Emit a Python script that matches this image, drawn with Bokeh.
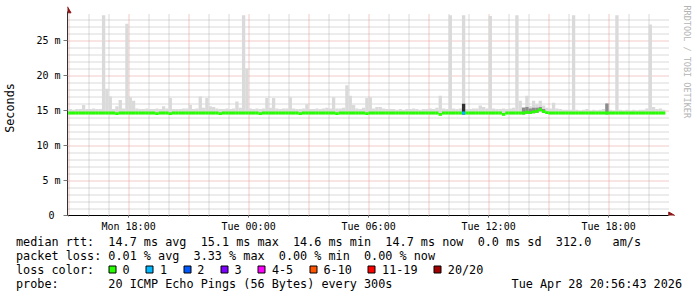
import html
import numpy as np
import pandas as pd
from bokeh.plotting import figure
from bokeh.layouts import column
from bokeh.models import (Range1d, FixedTicker, Plot, Div, ColumnDataSource)
from bokeh.core.properties import value
from bokeh.embed import file_html
from bokeh.resources import INLINE

# ---------------- data ----------------
step_start = "2026-04-27 14:50"          # first 10-minute step
view_start = "2026-04-27 14:56:43"
view_end = "2026-04-28 20:56:43"

# maximum ping RTT per step (ms) -> top of the grey "smoke"
smoke_max = [
    15.2, 15.2, 15.1, 15.2, 15.2, 15.8, 15.2, 15.2, 15.3, 15.2,
    15.2, 28.6, 18.1, 17.0, 15.2, 15.6, 16.5, 15.3, 27.4, 16.9,
    16.4, 15.3, 15.2, 15.2, 15.3, 15.2, 15.2, 15.3, 15.2, 15.6,
    15.3, 16.8, 15.2, 15.2, 15.2, 15.3, 15.3, 15.8, 15.2, 15.3,
    17.0, 15.4, 16.8, 15.6, 15.5, 15.3, 15.2, 15.2, 15.3, 15.2,
    15.3, 16.3, 15.4, 28.6, 21.0, 15.3, 15.2, 15.3, 15.2, 15.3,
    16.8, 15.4, 16.8, 15.3, 15.2, 15.3, 15.3, 16.9, 15.3, 15.2,
    15.2, 15.3, 15.9, 15.2, 15.2, 15.3, 15.2, 15.3, 15.4, 15.3,
    16.9, 15.3, 15.3, 15.4, 18.6, 17.1, 15.8, 15.3, 15.2, 15.4,
    16.8, 16.9, 15.3, 15.5, 15.5, 15.3, 15.2, 15.2, 15.2, 15.1,
    15.2, 15.1, 15.2, 15.2, 15.3, 15.2, 15.1, 15.2, 15.2, 15.3,
    15.2, 15.4, 17.1, 15.3, 15.2, 28.6, 15.3, 15.2, 15.3, 28.6,
    15.2, 15.2, 15.3, 15.3, 15.7, 15.5, 15.3, 28.5, 15.3, 15.2,
    15.2, 15.3, 15.2, 15.3, 15.4, 28.6, 16.4, 15.5, 17.1, 15.6,
    16.4, 15.9, 16.4, 15.7, 15.4, 15.3, 16.1, 15.3, 15.2, 15.1,
    15.1, 15.1, 28.6, 15.1, 15.0, 15.1, 15.2, 15.0, 15.1, 15.0,
    15.1, 15.2, 16.0, 15.1, 15.0, 28.6, 15.1, 15.0, 15.1, 15.0,
    15.1, 15.0, 15.1, 15.1, 15.3, 27.3, 15.5, 15.2, 15.3, 15.1,
]

# median RTT per step (ms)
median_rtt = [
    14.65, 14.65, 14.65, 14.65, 14.65, 14.65, 14.65, 14.65, 14.65, 14.65,
    14.65, 14.65, 14.65, 14.65, 14.65, 14.55, 14.65, 14.65, 14.65, 14.65,
    14.65, 14.65, 14.65, 14.65, 14.65, 14.65, 14.65, 14.55, 14.65, 14.65,
    14.65, 14.55, 14.65, 14.65, 14.65, 14.65, 14.65, 14.65, 14.65, 14.65,
    14.65, 14.65, 14.65, 14.65, 14.65, 14.65, 14.55, 14.65, 14.65, 14.65,
    14.65, 14.65, 14.65, 14.65, 14.65, 14.65, 14.65, 14.65, 14.55, 14.65,
    14.65, 14.65, 14.65, 14.65, 14.65, 14.65, 14.65, 14.65, 14.65, 14.65,
    14.55, 14.65, 14.65, 14.65, 14.65, 14.65, 14.65, 14.65, 14.65, 14.65,
    14.65, 14.55, 14.65, 14.65, 14.65, 14.65, 14.65, 14.65, 14.65, 14.65,
    14.55, 14.65, 14.65, 14.65, 14.65, 14.65, 14.65, 14.65, 14.65, 14.65,
    14.65, 14.65, 14.65, 14.65, 14.65, 14.65, 14.65, 14.65, 14.65, 14.65,
    14.65, 14.65, 14.45, 14.65, 14.65, 14.65, 14.65, 14.65, 14.65, 14.65,
    14.65, 14.65, 14.65, 14.65, 14.65, 14.65, 14.65, 14.65, 14.65, 14.65,
    14.65, 14.45, 14.65, 14.65, 14.65, 14.65, 14.65, 14.65, 14.75, 14.70,
    14.80, 14.90, 15.10, 14.85, 14.70, 14.65, 14.65, 14.65, 14.65, 14.65,
    14.65, 14.65, 14.65, 14.65, 14.65, 14.65, 14.65, 14.65, 14.65, 14.65,
    14.65, 14.65, 14.65, 14.65, 14.65, 14.65, 14.65, 14.65, 14.65, 14.65,
    14.65, 14.65, 14.65, 14.65, 14.65, 14.65, 14.65, 14.65, 14.65, 14.65,
]

# steps with packet loss (step index, lost pings out of 20)
loss_steps = [119]
loss_pings = [1]

# denser smoke (many pings close together): step index and top (ms)
dense_steps = [119]
dense_top = [15.95]
medium_steps = [162, 137, 138, 139, 140, 141, 142, 143]
medium_top = [16.0, 15.4, 15.5, 15.3, 15.4, 15.4, 15.5, 15.2]

y_ticks = [0, 5, 10, 15, 20, 25]
y_tick_labels = ["0\u00a0", "5 m", "10 m", "15 m", "20 m", "25 m"]
x_tick_times = ["2026-04-27 18:00", "2026-04-28 00:00", "2026-04-28 06:00",
                "2026-04-28 12:00", "2026-04-28 18:00"]
x_tick_labels = ["Mon 18:00", "Tue 00:00", "Tue 06:00", "Tue 12:00", "Tue 18:00"]

loss_legend_labels = ["0", "1", "2", "3", "4-5", "6-10", "11-19", "20/20"]
loss_legend_colors = ["#26ff00", "#00b8ff", "#0059ff", "#7e00ff",
                      "#ff00ff", "#ff5500", "#ff0000", "#a10000"]

row_rtt = "median rtt:  14.7 ms avg  15.1 ms max  14.6 ms min  14.7 ms now  0.0 ms sd  312.0   am/s"
row_loss = "packet loss: 0.01 % avg  3.33 % max  0.00 % min  0.00 % now"
row_color = "loss color:"
row_probe = "probe:       20 ICMP Echo Pings (56 Bytes) every 300s"
row_date = "Tue Apr 28 20:56:43 2026"
watermark = "RRDTOOL / TOBI OETIKER"

# ---------------- build ----------------
HAS_FALIGN = "frame_align" in Plot.properties()

def ms(t):
    return int(pd.Timestamp(t).value // 10**6)

step = pd.Timedelta(minutes=10)
starts = pd.date_range(step_start, periods=len(smoke_max), freq="10min")
ends = starts + step
med = np.array(median_rtt)
band = 0.21

loss_full = [0] * len(median_rtt)
for i, n in zip(loss_steps, loss_pings):
    loss_full[i] = n

def loss_color(n):
    return loss_legend_colors[n] if n <= 3 else loss_legend_colors[4]

smoke_src = ColumnDataSource(dict(left=starts, right=ends, top=smoke_max, bottom=med - band))
med_src = ColumnDataSource(dict(left=starts, right=ends, top=med + band, bottom=med - band,
                                color=[loss_color(n) for n in loss_full]))
dense_src = ColumnDataSource(dict(left=starts[dense_steps], right=ends[dense_steps],
                                  top=dense_top, bottom=med[dense_steps] - band))
medium_src = ColumnDataSource(dict(left=starts[medium_steps], right=ends[medium_steps],
                                   top=medium_top, bottom=med[medium_steps] - band))

W, H = 697, 297
H1 = 234                                  # chart part; legend part below
FL, FR, FT, FB = 67, 667, 14, 215         # plot-area edges in pixels
ppm = 7.0                                 # pixels per ms on the y axis
x0, x1 = ms(view_start), ms(view_end)
kx = (x1 - x0) / (FR - FL)                # ms of time per pixel
FRF, FTF = W, 0                           # frame spans the right/top margins too

def px_x(px):
    return x0 + (px - FL) * kx

def px_y(py):
    return (FB - py) / ppm

p = figure(width=W, height=H1, x_axis_type="datetime",
           x_range=Range1d(x0, px_x(FRF)), y_range=Range1d(0, px_y(FTF)),
           output_backend="svg", toolbar_location=None,
           min_border_left=FL, min_border_right=W - FRF,
           min_border_top=FTF, min_border_bottom=H1 - FB,
           background_fill_color="white", border_fill_color="white",
           outline_line_color=None)
p.xgrid.visible = False
p.ygrid.visible = False

# dotted grid over the plot area only, on pixel centres so the dots stay crisp
hours = [ms(t) for t in pd.date_range("2026-04-27 15:00", "2026-04-28 20:00", freq="1h")]
x_major = [h for h in hours if pd.Timestamp(h, unit="ms").hour % 3 == 0]
x_minor = [h for h in hours if h not in x_major]
y_minor = [v for v in range(1, 29) if v % 5 != 0]
y_major = [5, 10, 15, 20, 25]

def crisp_t(t):
    return px_x(np.floor(FL + (t - x0) / kx) + 0.5)

def crisp_v(v):
    return px_y(np.floor(FB - v * ppm) + 0.5)

for xt_, yt_, col in [(x_minor, y_minor, "#b4b4b4"), (x_major, y_major, "#e89494")]:
    vx = [crisp_t(t) for t in xt_]
    p.segment(x0=vx, x1=vx, y0=[0] * len(vx), y1=[px_y(FT)] * len(vx),
              line_color=col, line_width=1, line_dash="1 1")
    hy = [crisp_v(v) for v in yt_]
    p.segment(x0=[x0] * len(hy), x1=[px_x(668)] * len(hy), y0=hy, y1=hy,
              line_color=col, line_width=1, line_dash="1 1")

p.quad(left="left", right="right", top="top", bottom="bottom", source=smoke_src,
       fill_color="#dadada", line_color=None)
p.quad(left="left", right="right", top="top", bottom="bottom", source=medium_src,
       fill_color="#8c8c8c", line_color=None)
p.quad(left="left", right="right", top="top", bottom="bottom", source=dense_src,
       fill_color="#303030", line_color=None)
p.quad(left="left", right="right", top="top", bottom="bottom", source=med_src,
       fill_color="color", line_color=None)

mono = "DejaVu Sans Mono"
xt = [ms(t) for t in x_tick_times]
xa = p.xaxis[0]
xa.ticker = FixedTicker(ticks=xt, minor_ticks=hours)
xa.major_label_overrides = {t: l for t, l in zip(xt, x_tick_labels)}
xa.major_label_text_font = mono
xa.major_label_text_font_size = "10px"
xa.major_label_text_color = "black"
xa.major_label_standoff = 3
xa.major_tick_out = 2
xa.major_tick_in = 0
xa.minor_tick_out = 1
xa.minor_tick_in = 0
xa.axis_line_color = "black"
xa.major_tick_line_color = "#555555"
xa.minor_tick_line_color = "#888888"
xa.bounds = (x0, px_x(668))

ya = p.yaxis[0]
ya.ticker = FixedTicker(ticks=y_ticks, minor_ticks=[])
ya.major_label_overrides = {t: l for t, l in zip(y_ticks, y_tick_labels)}
ya.major_label_text_font = mono
ya.major_label_text_font_size = "10px"
ya.major_label_text_color = "black"
ya.major_label_standoff = 3
ya.major_tick_out = 4
ya.major_tick_in = 0
ya.minor_tick_out = 0
ya.minor_tick_in = 0
ya.axis_line_color = "#333333"
ya.major_tick_line_color = "#777777"
ya.axis_label = "Seconds"
ya.axis_label_text_font = mono
ya.axis_label_text_font_size = "11.8px"
ya.axis_label_text_font_style = "normal"
ya.axis_label_text_color = "black"
ya.axis_label_standoff = 16
ya.bounds = (0, px_y(11))

arrow_c = "#8c1414"
p.scatter(x=[x0], y=[px_y(10.3)], marker="triangle", size=7,
          fill_color=arrow_c, line_color=arrow_c)
p.scatter(x=[px_x(670.3)], y=[0], marker="triangle", size=7, angle=-np.pi / 2,
          fill_color=arrow_c, line_color=arrow_c)
p.text(x=[px_x(686.5)], y=[px_y(5)], text=[watermark], angle=-np.pi / 2,
       text_align="left", text_baseline="middle", text_font=value(mono),
       text_font_size="8.5px", text_color="#b4b4b4")

# ---------------- legend part ----------------
H2 = H - H1
lx = 15.5
adv = 7.107
rows_y = [241 - H1, 255 - H1, 269 - H1, 283 - H1]
row_texts = [row_rtt, row_loss, row_color, row_probe]

sw_x, tx_x = [], []
xs = lx + 13 * adv
for lab in loss_legend_labels:
    sw_x.append(xs)
    tx_x.append(xs + 2 * adv)
    xs = xs + 2 * adv + adv * len(lab) + 16.0
sw_left = [round(v) + 0.5 for v in sw_x]

if HAS_FALIGN:
    p.frame_align = False
    q = figure(width=W, height=H2, x_range=Range1d(0, W), y_range=Range1d(H2, 0),
               output_backend="svg", toolbar_location=None,
               x_axis_location=None, y_axis_location=None,
               min_border=0, min_border_left=0, min_border_right=0,
               min_border_top=0, min_border_bottom=0,
               background_fill_color="white", border_fill_color="white",
               outline_line_color=None)
    q.frame_align = False
    q.xgrid.visible = False
    q.ygrid.visible = False

    def keep_spaces(s):
        return s.replace("  ", " \u00a0")

    q.text(x=[lx] * 4, y=rows_y, text=[keep_spaces(s) for s in row_texts],
           text_font=value(mono), text_font_size="11.8px", text_baseline="middle",
           text_align="left", text_color="black")
    q.text(x=[681.5], y=[rows_y[3]], text=[row_date], text_font=value(mono),
           text_font_size="11.8px", text_baseline="middle", text_align="right",
           text_color="black")
    q.quad(left=sw_left, right=[v + 7 for v in sw_left],
           top=[rows_y[2] - 3.5] * 8, bottom=[rows_y[2] + 3.5] * 8,
           fill_color=loss_legend_colors, line_color="black", line_width=1)
    q.text(x=tx_x, y=[rows_y[2]] * 8, text=loss_legend_labels, text_font=value(mono),
           text_font_size="11.8px", text_baseline="middle", text_align="left",
           text_color="black")
else:
    parts = []
    def piece(x, yc, txt, align="left"):
        pos = f"left:{x}px;" if align == "left" else f"right:{W - x}px;"
        return (f'<div style="position:absolute;{pos}top:{yc - 7}px;height:14px;'
                f'line-height:14px;white-space:pre;">{html.escape(txt)}</div>')
    for t, yc in zip(row_texts, rows_y):
        parts.append(piece(lx, yc, t))
    parts.append(piece(681.5, rows_y[3], row_date, "right"))
    for sx, tx, lab, col in zip(sw_left, tx_x, loss_legend_labels, loss_legend_colors):
        parts.append(f'<div style="position:absolute;left:{sx - 0.5}px;top:{rows_y[2] - 4}px;'
                     f'width:6px;height:6px;border:1px solid #000;background:{col};"></div>')
        parts.append(piece(tx, rows_y[2], lab))
    q = Div(text=(f'<div style="position:relative;width:{W}px;height:{H2}px;'
                  f'font-family:\'DejaVu Sans Mono\';font-size:11.8px;color:#000;">'
                  + "".join(parts) + "</div>"),
            width=W, height=H2, margin=0)

layout = column(p, q, spacing=0)
open("out.html", "w").write(file_html(layout, INLINE))
